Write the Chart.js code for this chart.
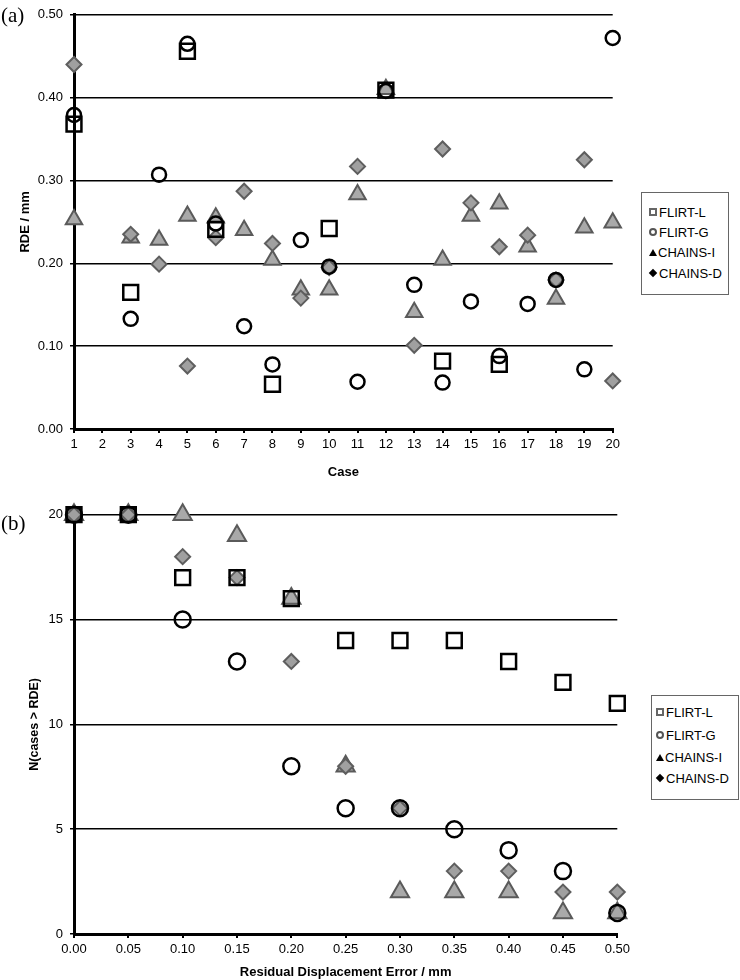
<!DOCTYPE html>
<html><head><meta charset="utf-8">
<script src="https://cdn.jsdelivr.net/npm/chart.js@4.4.1/dist/chart.umd.min.js"></script>
<style>
html,body{margin:0;padding:0;background:#fff;}
body{width:740px;height:980px;position:relative;overflow:hidden;font-family:"Liberation Sans",Arial,sans-serif;}
canvas{position:absolute;left:0;display:block;}
.panel{position:absolute;left:1px;font-family:"Liberation Serif","Times New Roman",serif;font-size:21px;line-height:24px;color:#000;}
.legend{position:absolute;border:1px solid #666;background:#fff;box-sizing:border-box;}
.item{position:absolute;height:16px;display:flex;align-items:center;font-size:13px;color:#000;white-space:nowrap;}
.sym{display:inline-block;margin-right:2px;}
.s-sq{width:4px;height:4px;border:2px solid #666;}
.s-ci{width:4px;height:4px;border:2px solid #555;border-radius:50%;}
.s-tr{width:0;height:0;border-left:4px solid transparent;border-right:4px solid transparent;border-bottom:7px solid #000;margin-right:1px;}
.s-di{width:6px;height:6px;background:#000;transform:rotate(45deg);margin-left:1px;margin-right:3px;}
</style>
</head><body>
<canvas id="c1" width="740" height="480" style="top:0"></canvas>
<canvas id="c2" width="740" height="500" style="top:480px"></canvas>
<div class="panel" style="top:3px">(a)</div>
<div class="panel" style="top:511px">(b)</div>
<div class="legend" style="left:641px;top:192px;width:88px;height:103px">
  <div class="item" style="left:7px;top:11px"><span class="sym s-sq"></span>FLIRT-L</div>
  <div class="item" style="left:7px;top:31px"><span class="sym s-ci"></span>FLIRT-G</div>
  <div class="item" style="left:7px;top:51px"><span class="sym s-tr"></span>CHAINS-I</div>
  <div class="item" style="left:7px;top:72px"><span class="sym s-di"></span>CHAINS-D</div>
</div>
<div class="legend" style="left:651px;top:695px;width:88px;height:105px">
  <div class="item" style="left:4px;top:8px"><span class="sym s-sq"></span>FLIRT-L</div>
  <div class="item" style="left:4px;top:31px"><span class="sym s-ci"></span>FLIRT-G</div>
  <div class="item" style="left:4px;top:53px"><span class="sym s-tr"></span>CHAINS-I</div>
  <div class="item" style="left:4px;top:74px"><span class="sym s-di"></span>CHAINS-D</div>
</div>
<script>
// ---- Panel (a): RDE per case ----
const cases = ['1','2','3','4','5','6','7','8','9','10','11','12','13','14','15','16','17','18','19','20'];
const rdeFlirtL  = [0.368, null, 0.165, null, 0.456, 0.241, null, 0.054, null, 0.242, null, 0.409, null, 0.082, null, 0.078, null, null, null, null];
const rdeFlirtG  = [0.379, null, 0.133, 0.307, 0.465, 0.248, 0.124, 0.078, 0.228, 0.196, 0.057, 0.408, 0.174, 0.056, 0.154, 0.088, 0.151, 0.180, 0.072, 0.472];
const rdeChainsI = [0.253, null, 0.231, 0.228, 0.257, 0.255, 0.240, 0.204, 0.168, 0.168, 0.283, 0.410, 0.141, 0.204, 0.257, 0.272, 0.220, 0.157, 0.243, 0.249];
const rdeChainsD = [0.440, null, 0.235, 0.199, 0.076, 0.231, 0.287, 0.224, 0.158, 0.195, 0.317, null, 0.101, 0.338, 0.273, 0.220, 0.234, 0.180, 0.325, 0.058];
const rdeTicks = [0, 0.1, 0.2, 0.3, 0.4, 0.5];

// ---- Panel (b): N(cases > RDE) ----
const rdeThresholds = ['0.00','0.05','0.10','0.15','0.20','0.25','0.30','0.35','0.40','0.45','0.50'];
const nFlirtL  = [20, 20, 17, 17, 16, 14, 14, 14, 13, 12, 11];
const nFlirtG  = [20, 20, 15, 13, 8, 6, 6, 5, 4, 3, 1];
const nChainsI = [20, 20, 20, 19, 16, 8, 2, 2, 2, 1, 1];
const nChainsD = [20, 20, 18, 17, 13, 8, 6, 3, 3, 2, 2];
const seriesNames = ['FLIRT-L', 'FLIRT-G', 'CHAINS-I', 'CHAINS-D'];

const FONT = '"Liberation Sans", Arial, sans-serif';

function styles(big) {
  return [
    {pointStyle:'rect', pointRadius:10.5, pointBorderWidth:2.5, pointBorderColor:'#000', pointBackgroundColor:'rgba(255,255,255,0)', order:1},
    {pointStyle:'circle', pointRadius: big ? 8 : 7, pointBorderWidth:2.5, pointBorderColor:'#000', pointBackgroundColor:'rgba(255,255,255,0)', order:2},
    {pointStyle:'triangle', pointRadius: big ? 10.5 : 9.5, pointBorderWidth:2, pointBorderColor:'#5a5a5a', pointBackgroundColor:'#a9a9a9', order:4},
    {pointStyle:'rectRot', pointRadius:7.5, pointBorderWidth:2, pointBorderColor:'#5e5e5e', pointBackgroundColor:'#a0a0a0', order:3}
  ];
}

function makeChart(id, labels, series, big, yOpts, xTitle, yTitle, pad, xHeight, yTitlePad, xTitlePad, yTitleSize) {
  const st = styles(big);
  const datasets = series.map((d, i) => Object.assign({
    label: seriesNames[i], data: d, showLine: false, clip: false,
    pointHoverRadius: st[i].pointRadius
  }, st[i]));
  return new Chart(document.getElementById(id), {
    type: 'line',
    data: { labels, datasets },
    options: {
      responsive: false, animation: false, devicePixelRatio: 1,
      layout: { padding: pad },
      plugins: { legend: { display: false }, tooltip: { enabled: false } },
      events: [],
      scales: {
        x: {
          offset: false,
          grid: { drawOnChartArea: false, drawTicks: true, tickLength: 4, color: '#000', lineWidth: 2 },
          border: { display: true, color: '#000', width: 3 },
          ticks: { color: '#000', font: { family: FONT, size: 13 }, padding: 4, maxRotation: 0, autoSkip: false },
          title: { display: true, text: xTitle, color: '#000', font: { family: FONT, size: 13, weight: 'bold' }, padding: { top: xTitlePad, bottom: 0 } },
          afterFit: s => { s.height = xHeight; }
        },
        y: Object.assign({
          grid: { color: '#000', lineWidth: 1.5, drawTicks: true, tickLength: 4 },
          border: { display: true, color: '#000', width: 3 },
          title: { display: true, text: yTitle, color: '#000', font: { family: FONT, size: yTitleSize, weight: 'bold' }, padding: { top: yTitlePad, bottom: 0 } },
          afterFit: s => { s.width = 74; }
        }, yOpts)
      }
    }
  });
}

makeChart('c1', cases, [rdeFlirtL, rdeFlirtG, rdeChainsI, rdeChainsD], false,
  { min: rdeTicks[0], max: rdeTicks[rdeTicks.length - 1],
    ticks: { stepSize: 0.1, color: '#000', font: { family: FONT, size: 13 }, padding: 7, callback: v => Number(v).toFixed(2) } },
  'Case', 'RDE / mm', { left: 0, right: 127.3, top: 10, bottom: 0 }, 51, 18, 5, 13);

makeChart('c2', rdeThresholds, [nFlirtL, nFlirtG, nChainsI, nChainsD], true,
  { min: 0, max: 20,
    ticks: { stepSize: 5, color: '#000', font: { family: FONT, size: 13 }, padding: 7 } },
  'Residual Displacement Error / mm', 'N(cases > RDE)', { left: 0, right: 122.7, top: 34.7, bottom: 0 }, 46, 27, 2, 12.5);
</script>
</body></html>
